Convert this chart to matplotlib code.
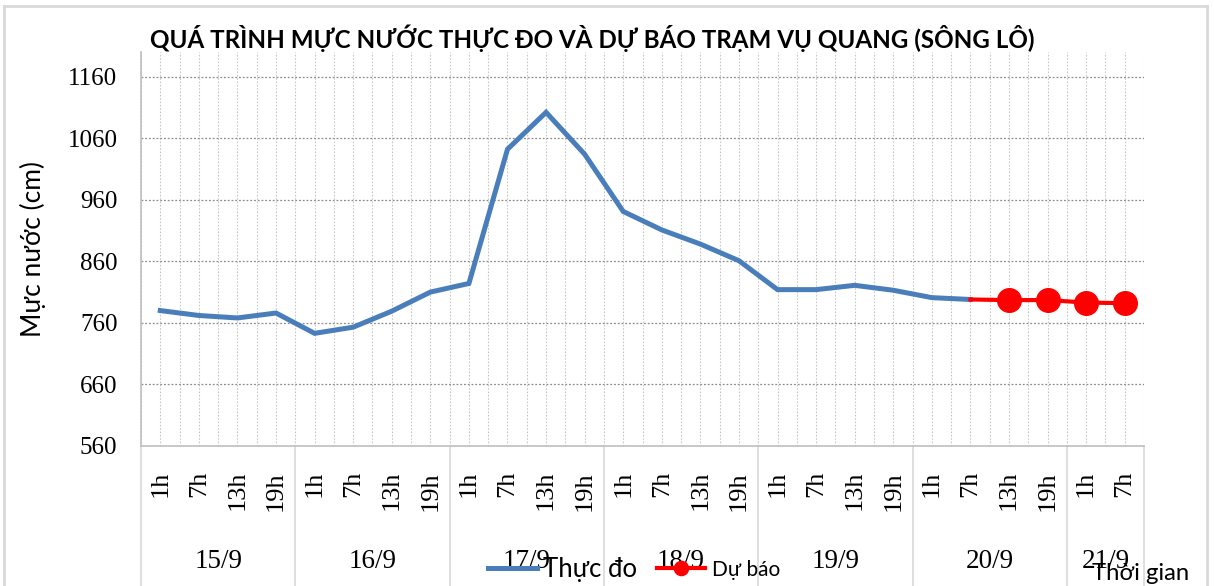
import numpy as np
import matplotlib
matplotlib.use('Agg')
import matplotlib.pyplot as plt
from matplotlib.lines import Line2D
from matplotlib.transforms import blended_transform_factory

plt.rcParams['figure.dpi'] = 100

days = ['15/9', '16/9', '17/9', '18/9', '19/9', '20/9', '21/9']
hours = ['1h', '7h', '13h', '19h'] * 6 + ['1h', '7h']

# measured levels (cm), 15/9 1h -> 20/9 7h
thuc_do = [780, 772, 768, 776, 743, 753, 779, 810, 824, 1042, 1102, 1034,
           941, 911, 888, 861, 814, 814, 821, 813, 801, 798]
# forecast, 20/9 7h -> 21/9 7h
du_bao = [798, 797, 797, 793, 792]

sans = 'Lato'
serif = 'Liberation Serif'

fig = plt.figure(figsize=(12.14, 5.86))
ax = fig.add_axes([141 / 1214, 1 - 446 / 586, 1003 / 1214, 394 / 586])

x_obs = np.arange(len(thuc_do))
x_fc = np.arange(len(thuc_do) - 1, len(thuc_do) - 1 + len(du_bao))

# grid
for xv in np.arange(-0.5, 26, 0.5):
    ax.axvline(xv, color='#c8c8c8', lw=0.8, ls=(0, (1.5, 1.5)), zorder=1)
for yv in range(660, 1161, 100):
    ax.axhline(yv, color='#8c8c8c', lw=0.9, ls=(0, (1.5, 1.5)), zorder=1)

ax.plot(x_obs, thuc_do, color='#4a7ebb', lw=3.6, solid_joinstyle='miter',
        label='Thực đo', zorder=3)
ax.plot(x_fc, du_bao, color='#ff0000', lw=3, marker='o', markersize=17,
        markevery=list(range(1, len(du_bao))), label='Dự báo', zorder=4)

ax.set_xlim(-0.5, 25.5)
ax.set_ylim(560, 1200)
ax.set_yticks(range(560, 1161, 100))
ax.set_xticks(range(len(hours)))
ax.set_xticklabels(hours, rotation=90, family=serif, fontsize=19)
for lab in ax.get_yticklabels():
    lab.set_family(serif)
    lab.set_fontsize(18)
ax.tick_params(axis='y', length=0, pad=17)
ax.tick_params(axis='x', length=0, pad=18)

for s in ['top', 'right']:
    ax.spines[s].set_visible(False)
for s in ['left', 'bottom']:
    ax.spines[s].set_color('#bfbfbf')
    ax.spines[s].set_linewidth(1.2)

# day groups under the axis
tr = blended_transform_factory(ax.transData, ax.transAxes)
bounds = [-0.5, 3.5, 7.5, 11.5, 15.5, 19.5, 23.5, 25.5]
for b in bounds:
    ax.plot([b, b], [0, -0.4], color='#d9d9d9', lw=1.2, transform=tr,
            clip_on=False, zorder=0)
for i, d in enumerate(days):
    xc = (bounds[i] + bounds[i + 1]) / 2
    ax.text(xc, -0.294, d, transform=tr, ha='center', va='center',
            family=serif, fontsize=19.5)

fig.text(592.5 / 1214, 1 - 48 / 586,
         'QUÁ TRÌNH MỰC NƯỚC THỰC ĐO VÀ DỰ BÁO TRẠM VỤ QUANG (SÔNG LÔ)',
         ha='center', va='baseline', family=sans, fontweight='bold', fontsize=17.4)
fig.text(33 / 1214, 1 - 249 / 586, 'Mực nước (cm)', rotation=90,
         ha='center', va='center', family=sans, fontsize=19)
fig.text(1092 / 1214, 1 - 580 / 586, 'Thời gian', ha='left', va='baseline',
         family=sans, fontsize=17.2)

leg = fig.legend(loc='center', bbox_to_anchor=(634 / 1214, 1 - 569 / 586),
                 ncol=2, frameon=False, handlelength=1.9, handletextpad=0.25,
                 columnspacing=0.75, markerscale=0.6,
                 prop={'family': sans, 'size': 18.5})
leg.get_texts()[1].set_fontsize(15)

# chart area border
for xs, ys in [([4, 1207], [6, 6]), ([4, 4], [6, 600]), ([1207, 1207], [6, 600])]:
    fig.add_artist(Line2D([v / 1214 for v in xs], [1 - v / 586 for v in ys],
                          color='#d9d9d9', lw=2))

fig.savefig('out.png', dpi=100)
